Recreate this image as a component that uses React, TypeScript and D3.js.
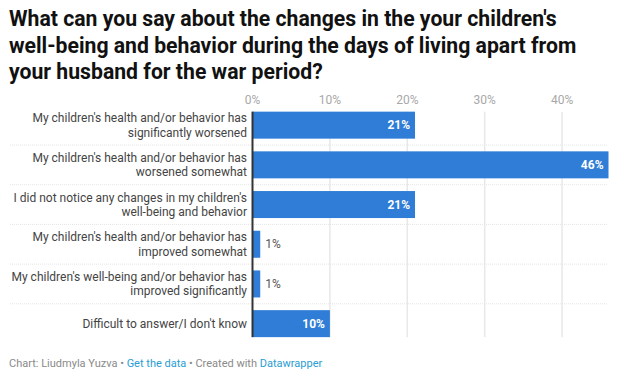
import { useEffect, useRef } from 'react';
import * as d3 from 'd3';

const title = [
  'What can you say about the changes in the your children\'s',
  'well-being and behavior during the days of living apart from',
  'your husband for the war period?',
];

const categories = [
  'My children\'s health and/or behavior has|significantly worsened',
  'My children\'s health and/or behavior has|worsened somewhat',
  'I did not notice any changes in my children\'s|well-being and behavior',
  'My children\'s health and/or behavior has|improved somewhat',
  'My children\'s well-being and/or behavior has|improved significantly',
  'Difficult to answer/I don\'t know',
];
const values = [21, 46, 21, 1, 1, 10];
const ticks = [0, 10, 20, 30, 40];

const W = 633;
const H = 390;
const FONT = 'Roboto, "Noto Sans", sans-serif';
const BAR = '#2f7dd6';

export default function App() {
  const svgRef = useRef<SVGSVGElement>(null);

  useEffect(() => {
    if (!svgRef.current) return;
    const svg = d3.select(svgRef.current);
    svg.selectAll('*').remove();

    // title
    svg.append('g')
      .selectAll('text')
      .data(title)
      .join('text')
      .attr('x', 9)
      .attr('y', (_, i) => 26 + i * 26.5)
      .attr('font-family', FONT)
      .attr('font-weight', 700)
      .attr('font-size', 21.2)
      .attr('fill', '#111')
      .text(d => d);

    const x = d3.scaleLinear().domain([0, 46]).range([252.5, 608.5]);
    const y = d3.scaleBand<string>()
      .domain(categories)
      .range([105.3, 343.5])
      .paddingInner(0.32)
      .paddingOuter(0.16);

    const top = y(categories[0])!;
    const bottom = y(categories[categories.length - 1])! + y.bandwidth();
    const gap = (y.step() - y.bandwidth()) / 2;

    // row separators
    svg.append('g')
      .selectAll('line')
      .data(categories.slice(0, -1))
      .join('line')
      .attr('x1', 10)
      .attr('x2', 608)
      .attr('y1', d => y(d)! + y.bandwidth() + gap)
      .attr('y2', d => y(d)! + y.bandwidth() + gap)
      .attr('stroke', '#e4e4e4')
      .attr('stroke-dasharray', '1,1');

    // grid
    svg.append('g')
      .selectAll('line')
      .data(ticks.slice(1))
      .join('line')
      .attr('x1', d => x(d))
      .attr('x2', d => x(d))
      .attr('y1', top)
      .attr('y2', bottom)
      .attr('stroke', '#e8e8e8')
      .attr('stroke-width', 1.5);

    svg.append('g')
      .selectAll('text')
      .data(ticks)
      .join('text')
      .attr('x', d => x(d))
      .attr('y', 100)
      .attr('dy', '0.35em')
      .attr('text-anchor', 'middle')
      .attr('font-family', FONT)
      .attr('font-size', 12)
      .attr('fill', '#a8a8a8')
      .text(d => `${d}%`);

    // bars
    svg.append('g')
      .selectAll('rect')
      .data(values)
      .join('rect')
      .attr('x', x(0))
      .attr('y', (_, i) => y(categories[i])!)
      .attr('width', d => x(d) - x(0))
      .attr('height', y.bandwidth())
      .attr('fill', BAR);

    // value labels
    svg.append('g')
      .selectAll('text')
      .data(values)
      .join('text')
      .attr('x', d => (d >= 5 ? x(d) - 5 : x(d) + 5))
      .attr('y', (_, i) => y(categories[i])! + y.bandwidth() / 2)
      .attr('dy', '0.35em')
      .attr('text-anchor', d => (d >= 5 ? 'end' : 'start'))
      .attr('font-family', FONT)
      .attr('font-size', 12)
      .attr('font-weight', d => (d >= 5 ? 700 : 400))
      .attr('fill', d => (d >= 5 ? '#fff' : '#555'))
      .text(d => `${d}%`);

    // zero line
    svg.append('line')
      .attr('x1', x(0))
      .attr('x2', x(0))
      .attr('y1', top)
      .attr('y2', bottom)
      .attr('stroke', '#333')
      .attr('stroke-width', 2);

    // category labels
    const lab = svg.append('g')
      .selectAll('text')
      .data(categories)
      .join('text')
      .attr('text-anchor', 'end')
      .attr('font-family', FONT)
      .attr('font-size', 12)
      .attr('fill', '#444');
    lab.each(function (d) {
      const lines = d.split('|');
      const cy = y(d)! + y.bandwidth() / 2;
      const t = d3.select(this);
      lines.forEach((ln, j) => {
        t.append('tspan')
          .attr('x', 247)
          .attr('y', cy + (j - (lines.length - 1) / 2) * 14.5)
          .attr('dy', '0.35em')
          .text(ln);
      });
    });

    // footer
    const foot = svg.append('text')
      .attr('x', 9)
      .attr('y', 363)
      .attr('dy', '0.35em')
      .attr('font-family', FONT)
      .attr('font-size', 11)
      .attr('fill', '#8a8a8a');
    foot.append('tspan').text('Chart: Liudmyla Yuzva • ');
    foot.append('tspan').attr('fill', '#2a9dd2').text('Get the data');
    foot.append('tspan').text(' • Created with ');
    foot.append('tspan').attr('fill', '#2a9dd2').text('Datawrapper');
  }, []);

  return (
    <div style={{ position: 'absolute', left: 0, top: 0, width: W, height: H, background: '#fff' }}>
      <svg ref={svgRef} width={W} height={H} style={{ display: 'block' }} />
    </div>
  );
}
